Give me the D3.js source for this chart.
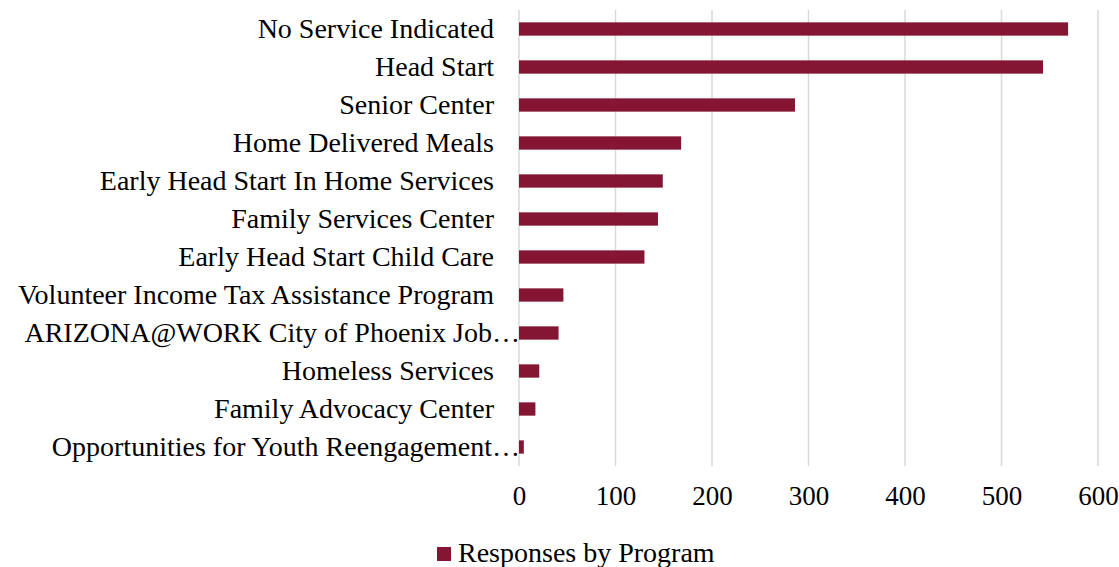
<!DOCTYPE html>
<html><head><meta charset="utf-8">
<script src="https://cdn.jsdelivr.net/npm/d3@7"></script>
<style>body{margin:0;background:#fff}svg{display:block}text{font-family:"Liberation Serif","Times New Roman",serif;fill:#000}</style>
</head><body><svg id="c" width="1119" height="567"></svg>
<script>
const categories = ["No Service Indicated","Head Start","Senior Center","Home Delivered Meals","Early Head Start In Home Services","Family Services Center","Early Head Start Child Care","Volunteer Income Tax Assistance Program","ARIZONA@WORK City of Phoenix Job…","Homeless Services","Family Advocacy Center","Opportunities for Youth Reengagement…"];
const values = [569,543,286,168,149,144,130,46,41,21,17,5];
const xTicks = [0,100,200,300,400,500,600];
const seriesName = "Responses by Program";
const color = "#841634";

const svg = d3.select("#c");
const m = {l:519, r:1098, t:10, b:466};
const x = d3.scaleLinear().domain([0,600]).range([m.l,m.r]);
const y = d3.scaleBand().domain(categories).range([m.t,m.b]).paddingInner(0.65).paddingOuter(0.325);

svg.append("g").selectAll("line").data(xTicks).join("line")
  .attr("x1",d=>x(d)).attr("x2",d=>x(d)).attr("y1",m.t).attr("y2",m.b)
  .attr("stroke","#d9d9d9").attr("stroke-width",1.5);

svg.append("g").selectAll("rect").data(categories).join("rect")
  .attr("x",x(0)).attr("y",d=>y(d)).attr("height",y.bandwidth())
  .attr("width",(d,i)=>x(values[i])-x(0)).attr("fill",color);

svg.append("g").selectAll("text").data(categories).join("text")
  .attr("x",d=>d.endsWith("…")? m.l+1 : m.l-25)
  .attr("y",d=>y(d)+y.bandwidth()/2).attr("dy","0.33em")
  .attr("text-anchor","end").attr("font-size",28).text(d=>d);

const ax = svg.append("g").attr("transform",`translate(0,${m.b})`)
  .call(d3.axisBottom(x).tickValues(xTicks).tickSize(0).tickPadding(20).tickFormat(d3.format("d")));
ax.select(".domain").remove();
ax.selectAll("text").attr("font-size",27).attr("font-family","Liberation Serif").attr("fill","#000");

const lg = svg.append("g");
lg.append("rect").attr("x",437).attr("y",547).attr("width",14).attr("height",14).attr("fill",color);
lg.append("text").attr("x",458).attr("y",561.5).attr("font-size",28).text(seriesName);
</script></body></html>
